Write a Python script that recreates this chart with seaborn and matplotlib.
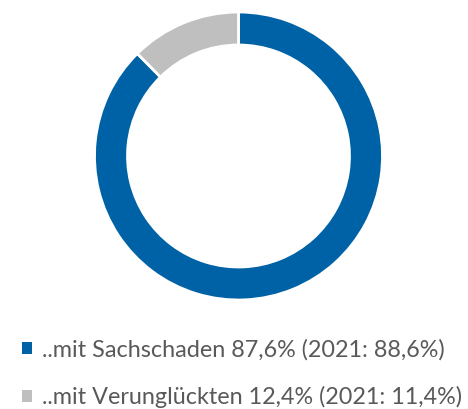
import matplotlib
matplotlib.use("Agg")
import matplotlib.pyplot as plt
import seaborn as sns
from matplotlib.patches import Patch

labels = ["..mit Sachschaden 87,6% (2021: 88,6%)", "..mit Verunglückten 12,4% (2021: 11,4%)"]
values = [87.6, 12.4]
colors = ["#0062A6", "#BFBFBF"]

sns.set_theme(style="white")
plt.rcParams["font.family"] = ["Lato", "DejaVu Sans"]

fig = plt.figure(figsize=(4.68, 4.09), dpi=100)
ax = fig.add_axes([94.5 / 468, 109 / 409, 288 / 468, 288 / 409])
ax.pie(values, colors=colors, startangle=90, counterclock=False,
       radius=1.0, wedgeprops=dict(width=33 / 144, edgecolor="white", linewidth=2))
ax.set_xlim(-1.0, 1.0)
ax.set_ylim(-1.0, 1.0)
ax.axis("off")

handles = [Patch(facecolor=c, edgecolor="none") for c in colors]
fig.legend(handles, labels, loc="upper left", bbox_to_anchor=(22 / 468, 1 - 339 / 409),
           frameon=False, fontsize=16.8, labelcolor="#595959", handlelength=0.43,
           handleheight=0.43, handletextpad=0.42, labelspacing=1.09, borderaxespad=0,
           borderpad=0)
fig.savefig("out.png", dpi=100)
